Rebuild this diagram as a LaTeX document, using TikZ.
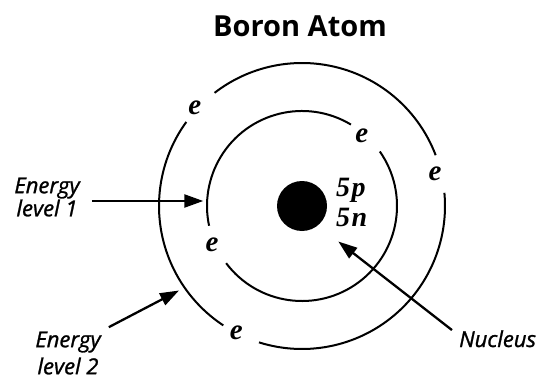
\documentclass[tikz,border=0pt]{standalone}
\usepackage{fontspec}
\setmainfont{Open Sans}
\newfontfamily\lblfont{Open Sans}[ItalicFeatures={FakeBold=1.2}]
\newfontfamily\efont{Liberation Serif}
\usetikzlibrary{arrows.meta,calc}

\begin{document}
\begin{tikzpicture}[x=1pt, y=1pt,
  every node/.style={inner sep=0pt},
  nucleus/.style={circle, fill=black, minimum size=50pt},
  orbit/.style={line width=2pt},
  elec/.style={font=\efont\bfseries\itshape\fontsize{29}{29}\selectfont},
  count/.style={font=\efont\bfseries\itshape\fontsize{28}{29.5}\selectfont, align=left},
  title/.style={font=\bfseries\fontsize{29}{29}\selectfont},
  lbl/.style={font=\lblfont\itshape\fontsize{22}{#1}\selectfont, align=center},
  arrow/.style={-{Triangle[length=19pt,width=13pt]}, line width=2.3pt}
]
\useasboundingbox (0,0) rectangle (546,381);

\node[title, anchor=base] (ttl) at (300,344.5) {Boron Atom};

\node[nucleus] (nuc) at (302,175) {};
\node[count, anchor=west] (pn) at (336,178.5) {5\kern1.5pt p\\5\kern1.5pt n};

% orbits with gaps for the electrons
\foreach \s/\e/\r in {59/192/95, 217/395/95, 144/236.6/143, 252.5/365.3/143, 20.8/127.7/143}
  \draw[orbit] (nuc.center) ++(\s:\r) arc[start angle=\s, end angle=\e, radius=\r];

\foreach \a/\r in {49.5/92, 203.5/98, 137.6/145, 242.7/143, 13.8/137}
  \node[elec] at ($(nuc.center)+(\a:\r)$) {e};

\node[lbl=20] (lvone) at (47,184) {Energy\\level 1};
\node[lbl=27] (lvtwo) at (68,28) {Energy\\level 2};
\node[lbl=22, anchor=base west] (nuclbl) at (459,34) {Nucleus};

\coordinate (tipone) at (203.3,180);
\coordinate (tiptwo) at (179,90.5);
\coordinate (tipnuc) at (338.3,139.5);

\draw[arrow, shorten <=12pt] (lvone.east |- tipone) -- (tipone);
\draw[arrow, shorten <=9pt] (lvtwo.north east) -- (tiptwo);
\draw[arrow] ([xshift=-7pt]nuclbl.north west) -- (tipnuc);
\end{tikzpicture}
\end{document}
